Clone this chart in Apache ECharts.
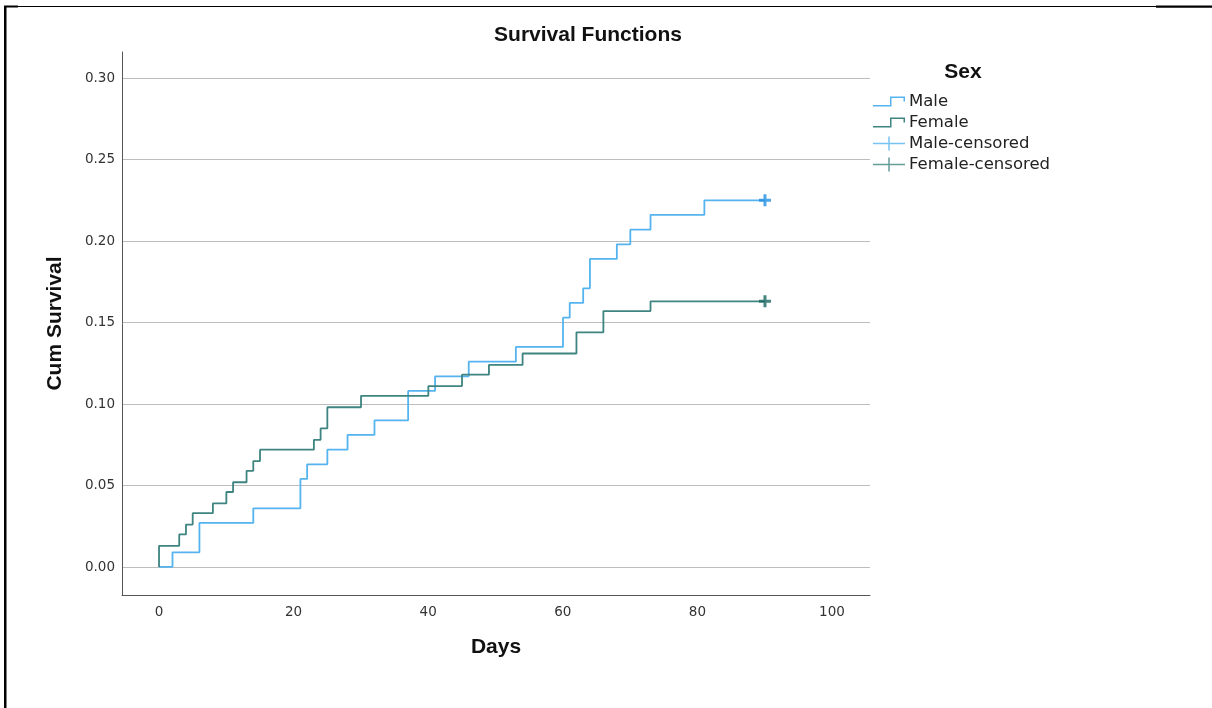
<!DOCTYPE html>
<html>
<head>
<meta charset="utf-8">
<script src="https://cdn.jsdelivr.net/npm/echarts@6/dist/echarts.min.js"></script>
<style>
html,body{margin:0;padding:0;background:#fff;}
#chart{width:1212px;height:708px;}
</style>
</head>
<body>
<div id="chart"></div>
<script>
// ---- data ----
var maleDays   = [0, 2, 6, 14, 21, 22, 25, 28, 32, 37, 41, 46, 53, 60, 61, 63, 64, 68, 70, 73, 81, 90];
var maleSurv   = [0, 0.009, 0.027, 0.036, 0.054, 0.063, 0.072, 0.081, 0.090, 0.108, 0.117, 0.126, 0.135, 0.153, 0.162, 0.171, 0.189, 0.198, 0.207, 0.216, 0.225, 0.225];
var femaleDays = [0, 0, 3, 4, 5, 8, 10, 11, 13, 14, 15, 23, 24, 25, 30, 40, 45, 49, 54, 62, 66, 73, 90];
var femaleSurv = [0, 0.013, 0.020, 0.026, 0.033, 0.039, 0.046, 0.052, 0.059, 0.065, 0.072, 0.078, 0.085, 0.098, 0.105, 0.111, 0.118, 0.124, 0.131, 0.144, 0.157, 0.163, 0.163];
var maleCensorDays = [90];
var maleCensorSurv = [0.225];
var femaleCensorDays = [90];
var femaleCensorSurv = [0.163];
var xTicks = [0, 20, 40, 60, 80, 100];
var yTicks = [0, 0.05, 0.10, 0.15, 0.20, 0.25, 0.30];
var seriesNames = ['Male', 'Female', 'Male-censored', 'Female-censored'];

function pairs(xs, ys) { return xs.map(function (x, i) { return [x, ys[i]]; }); }

var maleColor = '#55b4ef', femaleColor = '#3e8480';
var maleCensorColor = '#1f8ee0', femaleCensorColor = '#176660';
var stepIcon = 'path://M0,11.5h18.5v1.5h-18.5z M17,3h1.5v10h-1.5z M17,3h15v1.5h-15z M30.5,3h1.5v5h-1.5z';
var crossIcon = 'path://M0,6.25h32v1.5h-32z M15.25,0h1.5v14h-1.5z';
var plusMarker = 'path://M4.5,0h3v12h-3z M0,4.5h12v3h-12z';

var chart = echarts.init(document.getElementById('chart'), null, {renderer: 'canvas'});
var tickFont = {fontFamily: 'DejaVu Sans', fontSize: 13.5, color: '#333'};
var boldFont = {fontFamily: 'Liberation Sans', fontWeight: 'bold', fontSize: 21, color: '#111'};

var option = {
  animation: false,
  backgroundColor: '#fff',
  title: [
    {text: 'Survival Functions', left: 588, top: 25, textAlign: 'center', padding: 0,
     textStyle: {fontFamily: 'Liberation Sans', fontWeight: 'bold', fontSize: 21, color: '#111'}},
    {text: 'Sex', left: 963, top: 62, textAlign: 'center', padding: 0,
     textStyle: {fontFamily: 'Liberation Sans', fontWeight: 'bold', fontSize: 21, color: '#111'}}
  ],
  legend: {
    orient: 'vertical', left: 873, top: 93, padding: 0,
    itemWidth: 32, itemHeight: 14, itemGap: 4,
    selectedMode: false,
    textStyle: {fontFamily: 'DejaVu Sans', fontSize: 16.5, color: '#222', lineHeight: 16, padding: [0, 0, 0, -1]},
    data: [
      {name: seriesNames[0], icon: stepIcon, itemStyle: {color: maleColor}},
      {name: seriesNames[1], icon: stepIcon, itemStyle: {color: femaleColor}},
      {name: seriesNames[2], icon: crossIcon, itemStyle: {color: maleColor}},
      {name: seriesNames[3], icon: crossIcon, itemStyle: {color: femaleColor}}
    ]
  },
  grid: [
    // frame grid: axis lines + data
    {left: 122, top: 52, width: 748, height: 543, containLabel: false, outerBoundsMode: 'none'},
    // horizontal grid lines + y labels
    {left: 122, top: 78, width: 748, height: 489, containLabel: false, outerBoundsMode: 'none'},
    // x labels
    {left: 159, top: 52, width: 673, height: 543, containLabel: false, outerBoundsMode: 'none'}
  ],
  xAxis: [
    {gridIndex: 0, type: 'value', min: -5.5, max: 105.6,
     name: 'Days', nameLocation: 'middle', nameGap: 42, nameTextStyle: boldFont,
     axisLine: {show: true, onZero: false, lineStyle: {color: '#555', width: 1}},
     axisTick: {show: false}, axisLabel: {show: false}, splitLine: {show: false}},
    {gridIndex: 1, type: 'value', min: -5.5, max: 105.6, show: false},
    {gridIndex: 2, type: 'value', min: xTicks[0], max: xTicks[xTicks.length - 1], interval: 20,
     axisLine: {show: false, onZero: false}, axisTick: {show: false}, splitLine: {show: false},
     axisLabel: Object.assign({margin: 10}, tickFont)}
  ],
  yAxis: [
    {gridIndex: 0, type: 'value', min: -0.0172, max: 0.316,
     name: 'Cum Survival', nameLocation: 'middle', nameGap: 56, nameTextStyle: boldFont,
     axisLine: {show: true, onZero: false, lineStyle: {color: '#555', width: 1}},
     axisTick: {show: false}, axisLabel: {show: false}, splitLine: {show: false}},
    {gridIndex: 1, type: 'value', min: yTicks[0], max: yTicks[yTicks.length - 1], interval: 0.05,
     axisLine: {show: false, onZero: false}, axisTick: {show: false},
     splitLine: {show: true, lineStyle: {color: '#bdbdbd', width: 1.2}},
     axisLabel: Object.assign({margin: 7, formatter: function (v) { return v.toFixed(2); }}, tickFont)},
    {gridIndex: 2, type: 'value', min: 0, max: 1, show: false}
  ],
  series: [
    {name: seriesNames[0], type: 'line', xAxisIndex: 0, yAxisIndex: 0, step: 'end',
     data: pairs(maleDays, maleSurv), showSymbol: false, symbol: 'none',
     lineStyle: {color: maleColor, width: 1.8}, itemStyle: {color: maleColor}, z: 3},
    {name: seriesNames[1], type: 'line', xAxisIndex: 0, yAxisIndex: 0, step: 'end',
     data: pairs(femaleDays, femaleSurv), showSymbol: false, symbol: 'none',
     lineStyle: {color: femaleColor, width: 1.8}, itemStyle: {color: femaleColor}, z: 3},
    {name: seriesNames[2], type: 'scatter', xAxisIndex: 0, yAxisIndex: 0,
     data: pairs(maleCensorDays, maleCensorSurv), symbol: plusMarker, symbolSize: 12,
     itemStyle: {color: maleCensorColor}, z: 4},
    {name: seriesNames[3], type: 'scatter', xAxisIndex: 0, yAxisIndex: 0,
     data: pairs(femaleCensorDays, femaleCensorSurv), symbol: plusMarker, symbolSize: 12,
     itemStyle: {color: femaleCensorColor}, z: 4}
  ],
  graphic: [
    {type: 'rect', shape: {x: 4, y: 6, width: 2.5, height: 702}, style: {fill: '#000'}, silent: true},
    {type: 'rect', shape: {x: 4, y: 6, width: 1152, height: 1}, style: {fill: '#000'}, silent: true},
    {type: 'rect', shape: {x: 4, y: 5.5, width: 14, height: 2}, style: {fill: '#000'}, silent: true},
    {type: 'rect', shape: {x: 1156, y: 5.5, width: 56, height: 2.2}, style: {fill: '#000'}, silent: true}
  ]
};
chart.setOption(option);
</script>
</body>
</html>
